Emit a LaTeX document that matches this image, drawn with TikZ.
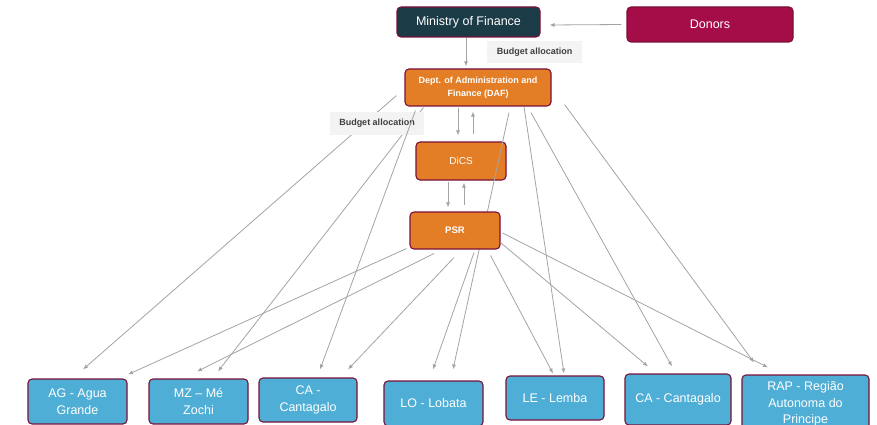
\documentclass[tikz,border=0pt]{standalone}
\usepackage{fontspec}
\setmainfont{Liberation Sans}
\usetikzlibrary{arrows.meta}

\definecolor{mofteal}{HTML}{1B3B47}
\definecolor{donorred}{HTML}{A50D48}
\definecolor{dafor}{HTML}{E47E26}
\definecolor{distblue}{HTML}{4EAED6}
\definecolor{edgemaroon}{HTML}{7A1038}
\definecolor{linkgray}{HTML}{A3A3A3}
\definecolor{labelbg}{HTML}{F3F3F3}
\definecolor{labeltext}{HTML}{3F3F3F}

\begin{document}
\begin{tikzpicture}[x=1pt, y=-1pt, >={Latex[length=5pt,width=4pt]},
		box/.style={draw=edgemaroon, line width=1.1pt, rounded corners=4pt, text=white, align=center, inner sep=0pt},
		topbox/.style={box, font=\fontsize{12.5}{15}\selectfont},
		unitbox/.style={box, fill=dafor, font=\bfseries\fontsize{9}{13}\selectfont},
		distbox/.style={box, fill=distblue, minimum width=99pt, minimum height=45pt, font=\fontsize{12.5}{16.7}\selectfont},
		flowlabel/.style={fill=labelbg, text=labeltext, inner sep=0pt, font=\bfseries\fontsize{9}{11}\selectfont},
		link/.style={->, draw=linkgray, line width=0.8pt}]
	\useasboundingbox (0,0) rectangle (877,425);
	\clip (0,0) rectangle (877,425);

	% top level
	\node[topbox, fill=mofteal, minimum width=143pt, minimum height=30pt] (mof) at (468.5,22) {Ministry of Finance};
	\node[topbox, fill=donorred, minimum width=166pt, minimum height=35pt] (donors) at (710,24.5) {Donors};
	\node[flowlabel, minimum width=95pt, minimum height=22pt] (budgetA) at (534.5,52) {Budget allocation};

	% ministry units
	\node[unitbox, minimum width=146pt, minimum height=37pt] (daf) at (478,87.5) {Dept. of Administration and\\Finance (DAF)};
	\node[unitbox, minimum width=90pt, minimum height=38pt, font=\fontsize{10}{12}\selectfont] (dics) at (461,161) {DiCS};

	% districts
	\node[distbox] (ag) at (77.5,401.5) {AG - Agua\\Grande};
	\node[distbox] (mz) at (198.5,401.5) {MZ -- Mé\\Zochi};
	\node[distbox, minimum width=98pt, minimum height=44pt] (caA) at (308,400) {CA -\\Cantagalo};
	\node[distbox] (lo) at (433.5,403.5) {LO - Lobata};
	\node[distbox, minimum width=98pt, minimum height=44pt] (le) at (555,398) {LE - Lemba};
	\node[distbox, minimum width=106pt, minimum height=51pt] (caB) at (678,399.5) {CA - Cantagalo};
	\node[distbox, minimum width=127pt, minimum height=58pt] (rap) at (805.5,404) {RAP - Região\\Autonoma do\\Principe};

	% DAF to districts
	\draw[link] ([xshift=-8pt,yshift=11pt]daf.south west) -- ([xshift=5.5pt,yshift=9pt]ag.north);
	\draw[link] ([xshift=19pt,yshift=-1pt]daf.south west) -- ([xshift=19.5pt,yshift=7pt]mz.north);
	\node[flowlabel, minimum width=94pt, minimum height=23pt] (budgetB) at (377,123.5) {Budget allocation};
	\draw[link] ([xshift=11pt,yshift=-4pt]daf.south west) -- ([xshift=12pt,yshift=8pt]caA.north);
	\draw[link] ([xshift=31pt,yshift=-6pt]daf.south) -- ([xshift=19.5pt,yshift=11pt]lo.north);
	\draw[link] ([xshift=46pt]daf.south) -- ([xshift=9pt,yshift=2pt]le.north);
	\draw[link] ([xshift=53pt,yshift=-6pt]daf.south) -- ([xshift=-6pt,yshift=7pt]caB.north);
	\draw[link] ([xshift=13pt,yshift=2pt]daf.south east) -- ([xshift=-51.5pt,yshift=12pt]rap.north);

	\node[unitbox, minimum width=90pt, minimum height=37pt, font=\bfseries\fontsize{9.5}{12}\selectfont] (psr) at (455,230.5) {PSR};

	% funding flows
	\draw[link] ([xshift=-5pt]donors.west) -- ([xshift=9pt,yshift=-3pt]mof.east);
	\draw[link] ([xshift=-2.5pt]mof.south) -- ([xshift=-12pt,yshift=2pt]daf.north);
	\draw[link] ([xshift=-20pt,yshift=-1pt]daf.south) -- ([xshift=-3pt,yshift=6pt]dics.north);
	\draw[link] ([xshift=12pt,yshift=7pt]dics.north) -- ([xshift=-5pt,yshift=-5pt]daf.south);
	\draw[link] ([xshift=-13pt,yshift=-1pt]dics.south) -- ([xshift=-7pt,yshift=4pt]psr.north);
	\draw[link] ([xshift=9pt,yshift=6pt]psr.north) -- ([xshift=3pt,yshift=-2pt]dics.south);

	% PSR to districts
	\draw[link] ([xshift=-3pt,yshift=1pt]psr.south west) -- ([xshift=50.5pt,yshift=4pt]ag.north);
	\draw[link] ([xshift=-21pt,yshift=-4pt]psr.south) -- ([xshift=-1.5pt,yshift=7pt]mz.north);
	\draw[link] ([xshift=-1pt,yshift=-8pt]psr.south) -- ([xshift=40pt,yshift=8pt]caA.north);
	\draw[link] ([xshift=19pt,yshift=-3pt]psr.south) -- ([xshift=-0.5pt,yshift=11pt]lo.north);
	\draw[link] ([xshift=-10pt,yshift=-6pt]psr.south east) -- ([xshift=-2pt,yshift=2pt]le.north);
	\draw[link] ([yshift=7pt]psr.south east) -- ([xshift=-30pt,yshift=7pt]caB.north);
	\draw[link] ([xshift=2pt,yshift=-2.5pt]psr.east) -- ([xshift=-37.5pt,yshift=7pt]rap.north);
\end{tikzpicture}
\end{document}
